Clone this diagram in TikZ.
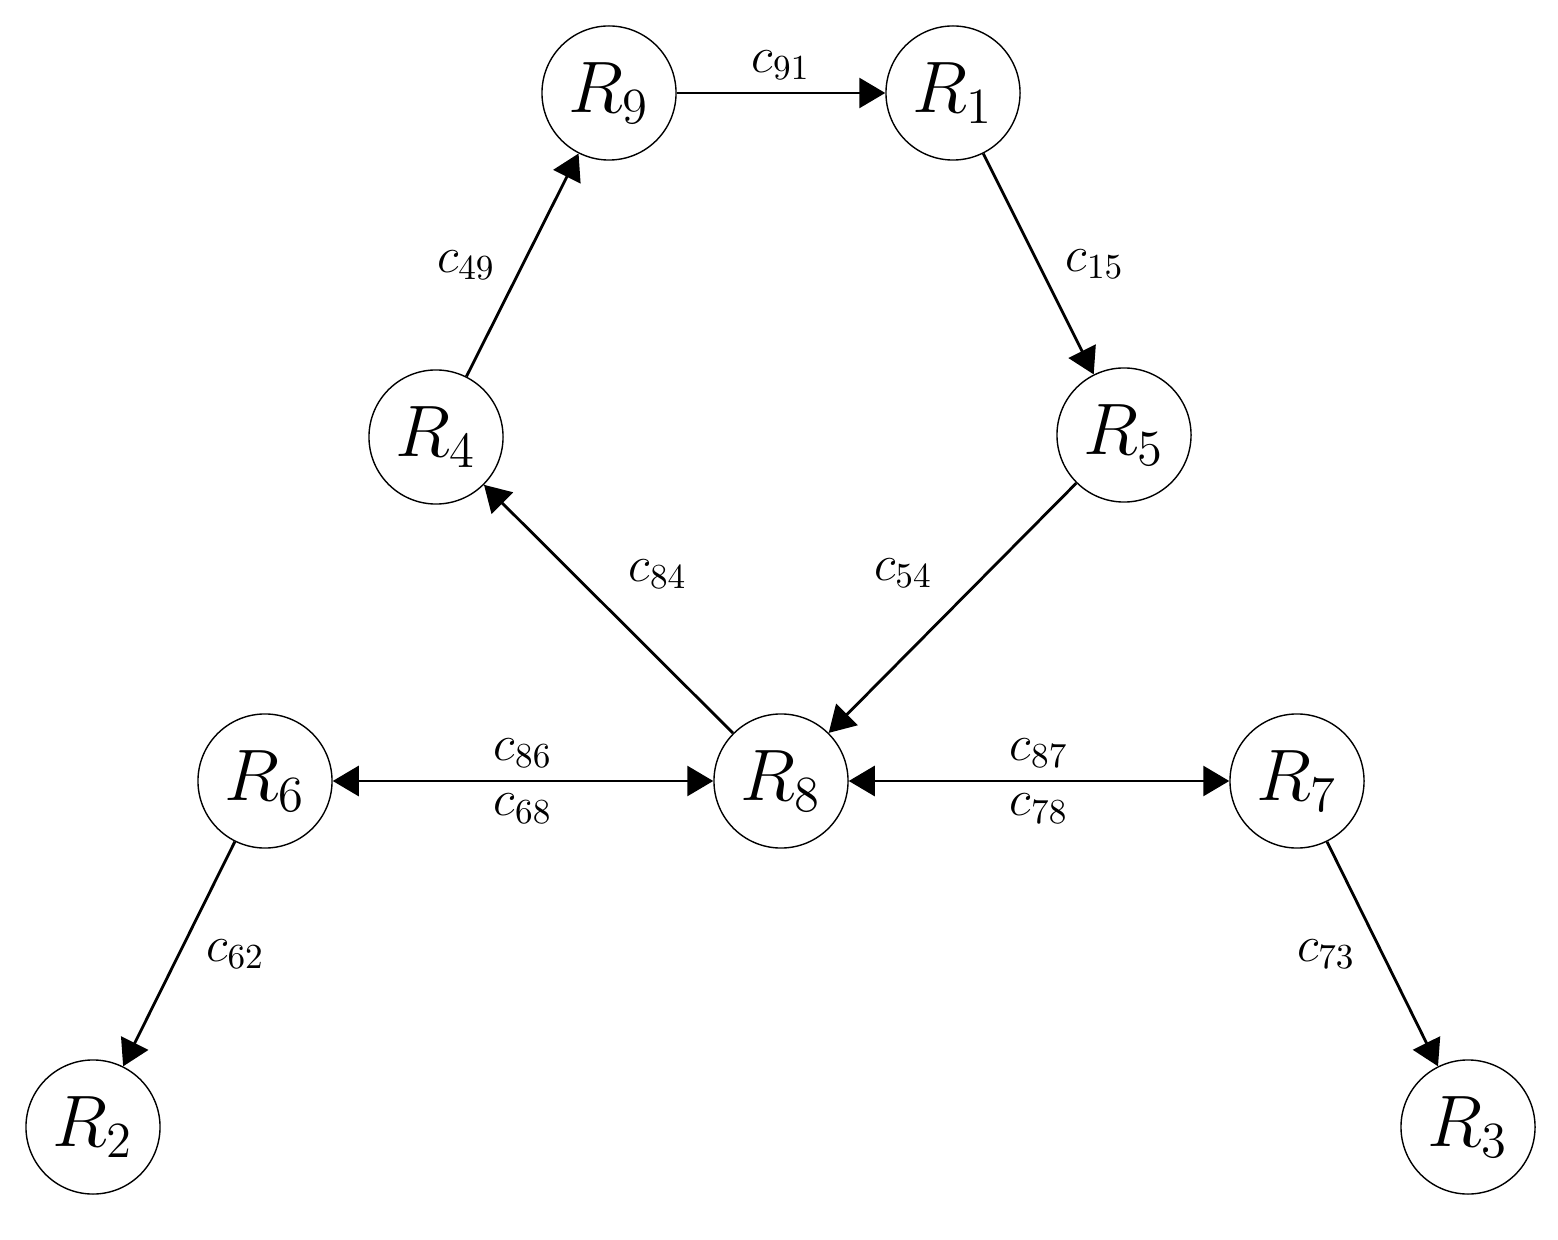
\documentclass[tikz,border=0pt]{standalone}
\usetikzlibrary{arrows.meta}
\tikzset{
  room/.style = {draw, circle, minimum size=1.34cm, inner sep=0pt, font=\huge},
  link/.style = {-{Triangle[length=0.26cm,width=0.3cm]}, thick},
  both/.style = {{Triangle[length=0.26cm,width=0.3cm]}-{Triangle[length=0.26cm,width=0.3cm]}, thick},
  cost/.style = {font=\Large}
}
\begin{document}
\begin{tikzpicture}[x=0.01cm, y=-0.01cm]
\useasboundingbox (0,0) rectangle (1558,1240);
\node [room] (r9) at (609,93) {$R_9$};
\node [room] (r1) at (953,93) {$R_1$};
\node [room] (r4) at (436,437) {$R_4$};
\node [room] (r5) at (1124,435) {$R_5$};
\node [room] (r6) at (265,781) {$R_6$};
\node [room] (r8) at (781,781) {$R_8$};
\node [room] (r7) at (1297,781) {$R_7$};
\node [room] (r2) at (93,1127) {$R_2$};
\node [room] (r3) at (1468,1127) {$R_3$};
\draw [link] (r9) -- node[cost, above] {$c_{91}$} (r1);
\draw [link] (r1) -- node[cost, right=4pt] {$c_{15}$} (r5);
\draw [link] (r4) -- node[cost, left=4pt] {$c_{49}$} (r9);
\draw [link] (r8) -- node[cost, above right=2pt] {$c_{84}$} (r4);
\draw [link] (r5) -- node[cost, above left=2pt] {$c_{54}$} (r8);
\draw [both] (r6) -- node[cost, above] {$c_{86}$} node[cost, below] {$c_{68}$} (r8);
\draw [both] (r8) -- node[cost, above] {$c_{87}$} node[cost, below] {$c_{78}$} (r7);
\draw [link] (r6) -- node[cost, right=4pt] {$c_{62}$} (r2);
\draw [link] (r7) -- node[cost, left=4pt] {$c_{73}$} (r3);
\end{tikzpicture}
\end{document}
